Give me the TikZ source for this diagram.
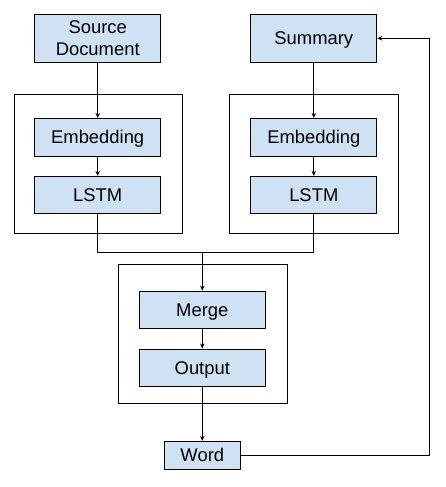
\documentclass[tikz,border=0pt]{standalone}
\usepackage{fontspec}
\setmainfont{Liberation Sans}
\usepackage{tikz}
\usetikzlibrary{positioning}
\usetikzlibrary{arrows.meta}
\definecolor{boxblue}{HTML}{CFE2F3}
\tikzstyle{block} = [draw, fill=boxblue, rectangle, inner sep=0pt, text height=13.2pt, text depth=0pt, minimum height=37.5pt, minimum width=126pt]
\tikzstyle{frame} = [draw, rectangle, minimum width=168.5pt, minimum height=139pt]
\tikzstyle{coord} = [coordinate]

\begin{document}
\begin{tikzpicture}[x=1pt,y=-1pt,line width=0.9pt,node distance=19.5pt,>={Stealth[length=5pt,width=4.5pt]},font=\fontsize{18.4}{22}\selectfont]%[auto, node distance=2cm]
    \useasboundingbox (0,0) rectangle (446,487);
    \node [frame] (enc1) at (98.5,163.8) {};
    \node [frame] (enc2) at (313.8,163.8) {};
    \node [frame, minimum height=138.7pt] (dec) at (202.8,333.7) {};

    \node [block, minimum height=48pt, text height=35.2pt, align=center] (src) at (97.7,38.3) {Source\\Document};
    \node [block, minimum height=48pt] (summary) at (313.8,38.3) {Summary};
    \node [block] (emb1) at (97.7,137.2) {Embedding};
    \node [block, below=of emb1] (lstm1) {LSTM};
    \node [block] (emb2) at (313.8,137.2) {Embedding};
    \node [block, below=of emb2] (lstm2) {LSTM};
    \node [block] (merge) at (202.3,309.8) {Merge};
    \node [block, below=of merge] (output) {Output};
    \node [block, minimum width=76pt, minimum height=28pt] (word) at (202.3,455.3) {Word};

    \node [coord] (join) at (202.3,252.3) {};
    \node [coord] (fb) at (429,38.3) {};

    \draw [->] (src) -- (emb1);
    \draw [->] (emb1) -- (lstm1);
    \draw [->] (summary) -- (emb2);
    \draw [->] (emb2) -- (lstm2);
    \draw (lstm1) |- (join) -| (lstm2);
    \draw [->] (join) -- (merge);
    \draw [->] (merge) -- (output);
    \draw [->] (output) -- (word);
    \draw [->] (word) -| (fb) -- (summary);
\end{tikzpicture}
\end{document}
